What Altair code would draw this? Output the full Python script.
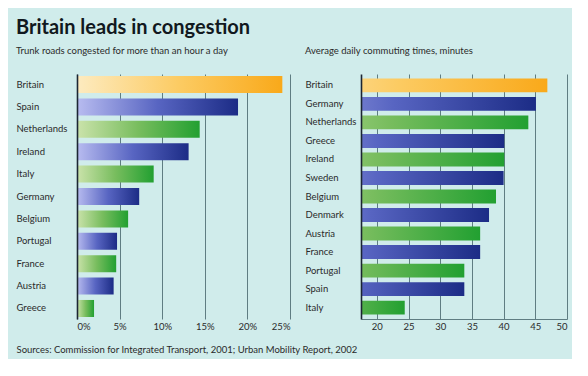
import altair as alt
import pandas as pd

# ---- data ----
left_countries = ["Britain", "Spain", "Netherlands", "Ireland", "Italy", "Germany",
                  "Belgium", "Portugal", "France", "Austria", "Greece"]
left_values = [24.1, 18.9, 14.4, 13.1, 9.0, 7.3, 6.0, 4.7, 4.6, 4.3, 2.0]
left_groups = ["uk", "blue", "green", "blue", "green", "blue",
               "green", "blue", "green", "blue", "green"]

right_countries = ["Britain", "Germany", "Netherlands", "Greece", "Ireland", "Sweden",
                   "Belgium", "Denmark", "Austria", "France", "Portugal", "Spain", "Italy"]
right_values = [46.9, 45.1, 43.9, 40.1, 40.1, 40.0, 38.8, 37.7, 36.3, 36.3, 33.8, 33.8, 24.4]
right_groups = ["uk", "blue", "green", "blue", "green", "blue", "green",
                "blue", "green", "blue", "green", "blue", "green"]

left_ticks = [0, 5, 10, 15, 20, 25]
right_ticks = [20, 25, 30, 35, 40, 45, 50]

title_text = "Britain leads in congestion"
left_sub = "Trunk roads congested for more than an hour a day"
right_sub = "Average daily commuting times, minutes"
source_text = "Sources: Commission for Integrated Transport, 2001; Urban Mobility Report, 2002"

# ---- styling ----
BG = "#d0eceb"
FONT = "Lato"
GRID = "#5f7d82"


def grad(c0, c1, c2):
    return alt.Gradient(
        gradient="linear",
        stops=[alt.GradientStop(color=c0, offset=0),
               alt.GradientStop(color=c1, offset=0.5),
               alt.GradientStop(color=c2, offset=1)],
        x1=0, x2=1, y1=0, y2=0,
    )


GRADS = {
    "uk": grad("#fdebc0", "#fccb62", "#f9a91a"),
    "blue": grad("#b8bcf0", "#5865c2", "#1c2c86"),
    "green": grad("#cbe3ab", "#78bd5e", "#22a031"),
}


def panel(countries, values, groups, domain, ticks, fmt_expr, sub,
          label_pad, width, height, x_domain_line, p_inner, p_outer, source=None):
    df = pd.DataFrame({"country": countries, "value": values, "group": groups})
    xaxis_kwargs = dict(
        values=ticks, grid=True, gridColor=GRID, gridWidth=1, gridOpacity=1,
        ticks=False, domain=x_domain_line, domainColor=GRID, domainWidth=1.2,
        labelExpr=fmt_expr, labelFont=FONT, labelFontSize=9.5,
        labelColor="#2a2a2a", labelPadding=2, zindex=0,
    )
    if source:
        xaxis_kwargs.update(
            title=source, titleX=-label_pad, titleY=30, titleAlign="left",
            titleAnchor="start", titleBaseline="middle", titleFont=FONT,
            titleFontSize=9.5, titleFontWeight="normal", titleColor="#2a2a2a",
        )
    else:
        xaxis_kwargs.update(title=None)
    base = alt.Chart(df).encode(
        y=alt.Y("country:N",
                scale=alt.Scale(domain=countries, paddingInner=p_inner, paddingOuter=p_outer),
                axis=alt.Axis(title=None, ticks=False, domain=True, domainColor="#1c2633",
                              domainWidth=1.6, labelAlign="left", labelPadding=label_pad,
                              labelFont=FONT, labelFontSize=9.5, labelColor="#2a2a2a",
                              zindex=1)),
        x=alt.X("value:Q",
                scale=alt.Scale(domain=domain, zero=False, nice=False),
                axis=alt.Axis(**xaxis_kwargs)),
    )
    layers = [
        base.transform_filter(alt.datum.group == g).mark_bar(color=GRADS[g], clip=True)
        for g in ["uk", "blue", "green"]
    ]
    return alt.layer(*layers).properties(
        width=width, height=height,
        title=alt.TitleParams(sub, anchor="start", frame="group", dx=-label_pad,
                              offset=19, font=FONT, fontSize=9.5, fontWeight="normal",
                              color="#2a2a2a"),
    )


left = panel(left_countries, left_values, left_groups, [0, 25], left_ticks,
             "datum.value + '%'", left_sub, 61, 213, 245, False, 0.24, 0.09, source_text)
right = panel(right_countries, right_values, right_groups, [17.5, 50], right_ticks,
              "datum.value", right_sub, 56, 206, 245, True, 0.25, 0.24)

chart = alt.hconcat(left, right, spacing=71, bounds="flush").properties(
    title=alt.TitleParams(title_text, anchor="start", font=FONT, fontSize=20,
                          fontWeight="bold", color="#111820", offset=8),
    background=BG,
    padding={"left": 8, "top": 9, "right": 5, "bottom": 5},
).configure_view(stroke=None)

chart.save("out.html", embed_options={"renderer": "svg", "actions": False})
